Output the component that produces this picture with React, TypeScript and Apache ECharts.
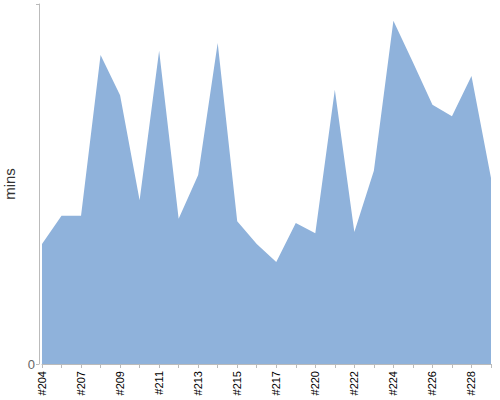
import { FC, useEffect, useRef } from "react";
import * as echarts from "echarts";

// build numbers on the x axis
const builds: string[] = [
  "#204", "#206", "#207", "#208", "#209", "#210", "#211", "#212",
  "#213", "#214", "#215", "#216", "#217", "#219", "#220", "#221",
  "#222", "#223", "#224", "#225", "#226", "#227", "#228", "#229",
];

// build duration in minutes
const durations: number[] = [
  20, 24.7, 24.7, 51.5, 44.8, 27.3, 52.2, 24.2,
  31.5, 53.5, 23.8, 20, 17, 23.5, 21.8, 45.7,
  22, 32.2, 57.2, 50.3, 43.2, 41.3, 48, 31,
];

const yMax = 60;

const App: FC = () => {
  const chartRef = useRef<HTMLDivElement>(null);

  useEffect(() => {
    if (!chartRef.current) return;
    const chart = echarts.init(chartRef.current, null, { renderer: "svg" });

    chart.setOption({
      animation: false,
      grid: { left: 42, right: 9, top: 4, bottom: 36, outerBoundsMode: "none", containLabel: false },
      xAxis: {
        type: "category",
        data: builds,
        boundaryGap: false,
        offset: 2,
        axisLine: { lineStyle: { color: "#bbb", width: 1 } },
        axisTick: { show: true, interval: 0, length: 4, lineStyle: { color: "#bbb" } },
        axisLabel: {
          interval: 1,
          rotate: 90,
          color: "#000",
          fontSize: 11,
          fontFamily: "Liberation Sans, Arial, sans-serif",
          margin: 5,
        },
      },
      yAxis: {
        type: "value",
        min: 0,
        max: yMax,
        interval: yMax,
        offset: 3,
        name: "mins",
        nameLocation: "middle",
        nameRotate: 90,
        nameGap: 22,
        nameTextStyle: {
          color: "#333",
          fontSize: 15,
          fontFamily: "Liberation Sans, Arial, sans-serif",
        },
        axisLine: { show: true, lineStyle: { color: "#bbb", width: 1 } },
        axisTick: { show: true, length: 3, lineStyle: { color: "#bbb" } },
        splitLine: { show: false },
        axisLabel: {
          color: "#666",
          fontSize: 13,
          fontFamily: "Liberation Sans, Arial, sans-serif",
          margin: 4,
          formatter: (v: number) => (v === 0 ? "0" : ""),
        },
      },
      series: [
        {
          type: "line",
          data: durations,
          showSymbol: false,
          lineStyle: { width: 0, color: "#8fb2db" },
          areaStyle: { color: "#8fb2db", opacity: 1 },
        },
      ],
    });

    return () => {
      chart.dispose();
    };
  }, []);

  return (
    <div
      ref={chartRef}
      style={{ position: "absolute", left: 0, top: 0, width: 500, height: 400 }}
    />
  );
};

export default App;
